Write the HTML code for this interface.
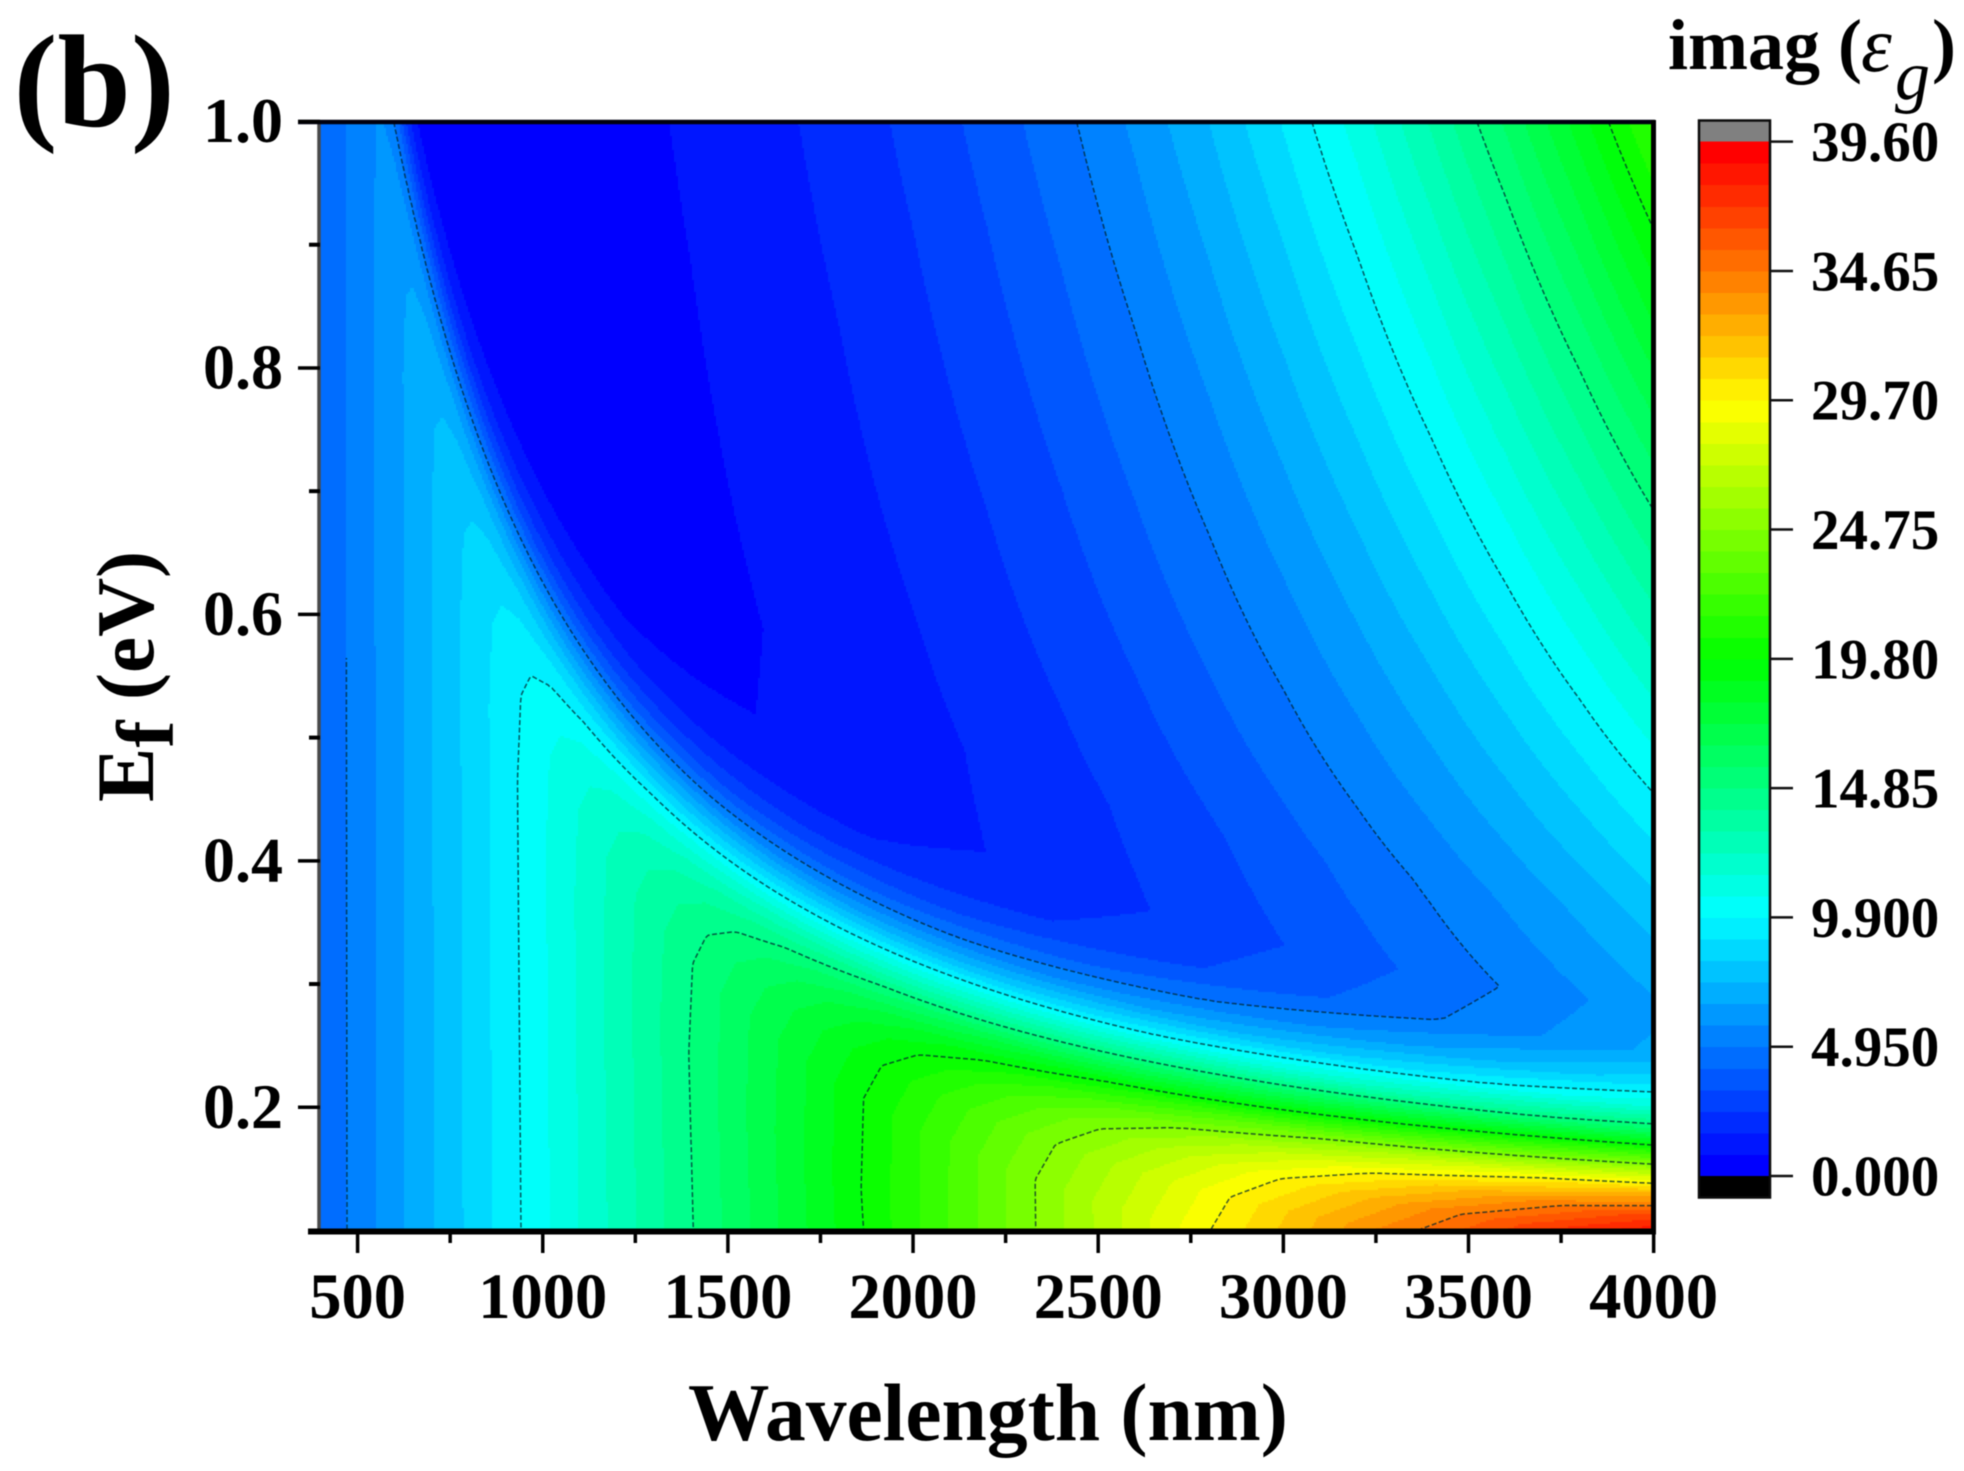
<!DOCTYPE html>
<html lang="en">
<head>
<meta charset="utf-8">
<title>imag(eps_g) contour map</title>
<style>
html,body{margin:0;padding:0;background:#fff;width:1964px;height:1471px;overflow:hidden}
#chart{display:block;filter:blur(0.6px)}
text{font-family:"Liberation Serif",serif;font-weight:bold;fill:#000}
</style>
</head>
<body>
<svg id="chart" xmlns="http://www.w3.org/2000/svg" width="1964" height="1471" viewBox="0 0 1964 1471">
  <defs>
    <clipPath id="first-line-clip"><path d="M380 0H1964V1471H0V658H380Z"/></clipPath>
  </defs>
  <rect x="0" y="0" width="1964" height="1471" fill="#fff"/>
  <g id="bands" shape-rendering="crispEdges"></g>
  <g id="contours" fill="none" stroke="#00262e" stroke-opacity="0.75" stroke-width="1.5" stroke-dasharray="5 2.5"></g>
  <g id="axes"></g>
  <g id="colorbar"></g>
  <text x="13.5" y="126" font-size="132">(b)</text>
  <text x="688" y="1440" font-size="81.5">Wavelength (nm)</text>
  <text transform="translate(153 802) rotate(-90)" font-size="81.5">E<tspan dy="20">f</tspan><tspan dy="-20" xml:space="preserve"> (eV)</tspan></text>
  <text y="69" font-size="72"><tspan x="1668">imag (</tspan><tspan x="1861" y="71" font-size="78" font-style="italic" font-weight="normal">ε</tspan><tspan x="1895" y="99" font-size="70" font-style="italic" font-weight="normal">g</tspan><tspan x="1932" y="69">)</tspan></text>
</svg>
<script>
// ---- data ----
// Columns: wavelength (nm). Rows: detuning 2*Ef - photon energy (eV), which keeps the sharp ridge axis-aligned.
const wavelengthColumns = [400,600,800,1000,1200,1400,1600,1800,2000,2200,2400,2600,2800,3000,3200,3400,3600,3800,4000];
const detuningRows = [-3,-0.4,-0.25,-0.18,-0.13,-0.09,-0.05,0,0.05,0.09,0.13,0.18,0.25,0.4,1,2];
const imagValues = [
[4.20,6.27,8.27,10.20,12.02,13.72,15.26,16.62,17.77,18.70,19.38,19.78,19.89,19.66,19.09,18.14,16.80,15.03,12.81],
[4.23,6.36,8.49,10.63,12.77,14.91,17.04,19.17,21.28,23.37,25.45,27.50,29.53,31.53,33.50,35.43,37.32,39.18,40.98],
[4.18,6.28,8.40,10.53,12.67,14.80,16.95,19.09,21.23,23.37,25.50,27.62,29.74,31.84,33.93,36.00,38.06,40.09,42.10],
[4.05,6.10,8.16,10.23,12.31,14.40,16.49,18.59,20.69,22.80,24.91,27.01,29.11,31.21,33.31,35.40,37.48,39.55,41.60],
[3.83,5.77,7.72,9.68,11.66,13.64,15.64,17.64,19.65,21.66,23.69,25.71,27.74,29.77,31.80,33.84,35.87,37.90,39.92],
[3.50,5.27,7.06,8.86,10.67,12.50,14.34,16.19,18.04,19.91,21.79,23.68,25.57,27.47,29.37,31.28,33.20,35.12,37.04],
[2.99,4.50,6.04,7.58,9.15,10.72,12.31,13.92,15.54,17.17,18.81,20.46,22.13,23.81,25.50,27.19,28.90,30.62,32.35],
[2.13,3.23,4.34,5.46,6.60,7.76,8.94,10.13,11.34,12.57,13.81,15.07,16.35,17.64,18.95,20.28,21.62,22.99,24.36],
[1.28,1.95,2.63,3.34,4.06,4.80,5.56,6.34,7.15,7.97,8.81,9.68,10.57,11.48,12.41,13.37,14.35,15.35,16.38],
[0.77,1.18,1.61,2.06,2.53,3.03,3.54,4.08,4.64,5.22,5.83,6.47,7.13,7.82,8.53,9.28,10.05,10.86,11.69],
[0.44,0.69,0.95,1.24,1.55,1.88,2.24,2.62,3.03,3.47,3.94,4.43,4.95,5.51,6.10,6.72,7.38,8.07,8.81],
[0.19,0.30,0.44,0.61,0.80,1.01,1.26,1.52,1.82,2.16,2.52,2.91,3.34,3.82,4.33,4.87,5.47,6.11,6.78],
[0.07,0.14,0.23,0.34,0.48,0.65,0.85,1.08,1.345,1.655,2.005,2.385,2.815,3.29,3.81,4.38,5.00,5.68,6.41],
[0.04,0.10,0.18,0.29,0.43,0.61,0.83,1.10,1.40,1.76,2.17,2.64,3.17,3.75,4.41,5.13,5.93,6.80,7.75],
[0.044,0.112,0.221,0.380,0.596,0.877,1.232,1.670,2.197,2.822,3.554,4.400,5.369,6.469,7.706,9.092,10.632,12.336,14.213],
[0.055,0.149,0.308,0.549,0.889,1.342,1.927,2.658,3.553,4.627,5.897,7.379,9.090,11.046,13.260,15.754,18.540,21.637,25.063]
];
const contourLevels = [4.95,9.9,14.85,19.8,24.75,29.7,34.65];
const colorLevelStep = 0.825;
const colorLevelCount = 48;
const xMajorTicks = [500,1000,1500,2000,2500,3000,3500,4000];
const xMinorTicks = [750,1250,1750,2250,2750,3250,3750];
const yMajorTicks = [0.2,0.4,0.6,0.8,1.0];
const yMinorTicks = [0.1,0.3,0.5,0.7,0.9];
const colorbarTicks = [0,4.95,9.9,14.85,19.8,24.75,29.7,34.65,39.6];
const colorbarTickLabels = ["0.000","4.950","9.900","14.85","19.80","24.75","29.70","34.65","39.60"];

// ---- axis functions ----
const xScale = w => 357.6 + (w - 500) * 0.3703;
const xInvert = x => 500 + (x - 357.6) / 0.3703;
const yScale = e => 121.5 + (1 - e) * 1232.2;
const yInvert = y => 1 - (y - 121.5) / 1232.2;
const cbScale = v => 1176 - v * 26.12;

const NS = 'http://www.w3.org/2000/svg';
function mk(tag, parent, attrs) {
  const el = document.createElementNS(NS, tag);
  for (const k in attrs) el.setAttribute(k, attrs[k]);
  parent.appendChild(el);
  return el;
}
function locate(arr, v) {
  let i = 0;
  while (i < arr.length - 2 && v > arr[i + 1]) i++;
  return i;
}
function fieldValue(w, e) {
  const s = 2 * e - 1240 / w;
  const c = locate(wavelengthColumns, w);
  const r = locate(detuningRows, s);
  const tc = Math.min(1, Math.max(0, (w - wavelengthColumns[c]) / (wavelengthColumns[c + 1] - wavelengthColumns[c])));
  const tr = Math.min(1, Math.max(0, (s - detuningRows[r]) / (detuningRows[r + 1] - detuningRows[r])));
  const a = imagValues[r][c], b = imagValues[r][c + 1], d = imagValues[r + 1][c], f = imagValues[r + 1][c + 1];
  return (a * (1 - tc) + b * tc) * (1 - tr) + (d * (1 - tc) + f * tc) * tr;
}
function levelColor(k) {
  const t = k / (colorLevelCount - 1) * 4;
  const seg = Math.min(3, Math.floor(t)), u = t - seg;
  let r, g, b;
  if (seg === 0) { r = 0; g = 255 * u; b = 255; }
  else if (seg === 1) { r = 0; g = 255; b = 255 * (1 - u); }
  else if (seg === 2) { r = 255 * u; g = 255; b = 0; }
  else { r = 255; g = 255 * (1 - u); b = 0; }
  return 'rgb(' + Math.round(r) + ',' + Math.round(g) + ',' + Math.round(b) + ')';
}

// ---- filled contour bands ----
const plotLeft = 320, plotRight = 1652, plotTop = 122, plotBottom = 1230, cell = 2;
const bandPaths = [];
for (let k = 0; k < colorLevelCount; k++) bandPaths.push([]);
for (let y = plotTop; y < plotBottom; y += cell) {
  const e = yInvert(y + cell / 2);
  let runStart = plotLeft, runBand = -1;
  for (let x = plotLeft; x <= plotRight; x += cell) {
    let band = -2;
    if (x < plotRight) {
      band = Math.floor(fieldValue(xInvert(x + cell / 2), e) / colorLevelStep);
      band = Math.max(0, Math.min(colorLevelCount - 1, band));
    }
    if (band !== runBand) {
      if (runBand >= 0) bandPaths[runBand].push('M' + runStart + ' ' + y + 'h' + (x - runStart) + 'v' + cell + 'h' + (runStart - x) + 'z');
      runStart = x;
      runBand = band;
    }
  }
}
const bandsGroup = document.getElementById('bands');
bandPaths.forEach((parts, k) => {
  if (!parts.length) return;
  const el = mk('path', bandsGroup, { d: parts.join(''), fill: levelColor(k) });
  
  
});

// ---- contour lines (marching squares, chained into polylines) ----
const gridStep = 4;
const gridCols = Math.floor((plotRight - plotLeft) / gridStep);
const gridRows = Math.floor((plotBottom - plotTop) / gridStep);
const gridValues = [];
for (let j = 0; j <= gridRows; j++) {
  const row = new Float64Array(gridCols + 1);
  const e = yInvert(plotTop + j * gridStep);
  for (let i = 0; i <= gridCols; i++) row[i] = fieldValue(xInvert(plotLeft + i * gridStep), e);
  gridValues.push(row);
}
const caseSegments = {1:[['L','B']],2:[['B','R']],3:[['L','R']],4:[['T','R']],5:[['L','T'],['B','R']],6:[['T','B']],7:[['L','T']],8:[['L','T']],9:[['T','B']],10:[['L','B'],['T','R']],11:[['T','R']],12:[['L','R']],13:[['B','R']],14:[['L','B']]};
function contourPath(level) {
  const pts = new Map(), adj = new Map();
  function edgePoint(side, i, j) {
    let key, a, b, x, y;
    if (side === 'T' || side === 'B') {
      const jj = side === 'T' ? j : j + 1;
      key = 'h' + i + ',' + jj;
      if (!pts.has(key)) {
        a = gridValues[jj][i]; b = gridValues[jj][i + 1];
        x = plotLeft + (i + (level - a) / (b - a)) * gridStep;
        y = plotTop + jj * gridStep;
        pts.set(key, [x, y]);
      }
    } else {
      const ii = side === 'L' ? i : i + 1;
      key = 'v' + ii + ',' + j;
      if (!pts.has(key)) {
        a = gridValues[j][ii]; b = gridValues[j + 1][ii];
        x = plotLeft + ii * gridStep;
        y = plotTop + (j + (level - a) / (b - a)) * gridStep;
        pts.set(key, [x, y]);
      }
    }
    return key;
  }
  function link(a, b) {
    if (!adj.has(a)) adj.set(a, []);
    if (!adj.has(b)) adj.set(b, []);
    adj.get(a).push(b);
    adj.get(b).push(a);
  }
  for (let j = 0; j < gridRows; j++) {
    for (let i = 0; i < gridCols; i++) {
      const idx = (gridValues[j][i] >= level ? 8 : 0) + (gridValues[j][i + 1] >= level ? 4 : 0) + (gridValues[j + 1][i + 1] >= level ? 2 : 0) + (gridValues[j + 1][i] >= level ? 1 : 0);
      const segs = caseSegments[idx];
      if (!segs) continue;
      segs.forEach(s => link(edgePoint(s[0], i, j), edgePoint(s[1], i, j)));
    }
  }
  const visited = new Set();
  let d = '';
  function walk(start) {
    let cur = start, chain = [];
    while (cur !== undefined && !visited.has(cur)) {
      visited.add(cur);
      chain.push(pts.get(cur));
      cur = adj.get(cur).find(n => !visited.has(n));
    }
    if (chain.length > 1) d += 'M' + chain.map(p => p[0].toFixed(1) + ' ' + p[1].toFixed(1)).join('L');
  }
  adj.forEach((n, key) => { if (n.length === 1 && !visited.has(key)) walk(key); });
  adj.forEach((n, key) => { if (!visited.has(key)) walk(key); });
  return d;
}
const contourGroup = document.getElementById('contours');
contourLevels.forEach((level, i) => {
  const el = mk('path', contourGroup, { d: contourPath(level) });
  if (i === 0) el.setAttribute('clip-path', 'url(#first-line-clip)');
  
  
});

// ---- axes ----
const axes = document.getElementById('axes');
const frameParts = [
  ['frame-left', 319, 121, 319, 1231, '#4a4a4a', 3.5],
  ['frame-top', 298, 122, 1655, 122, '#000010', 4.5],
  ['frame-right', 1653.5, 120, 1653.5, 1231, '#000', 5],
  ['frame-bottom', 308, 1231.5, 1656, 1231.5, '#000', 6]
];
frameParts.forEach(p => {
  const el = mk('line', axes, { x1: p[1], y1: p[2], x2: p[3], y2: p[4], stroke: p[5], 'stroke-width': p[6] });
  
  
});
xMajorTicks.forEach(v => {
  const x = xScale(v);
  const t = mk('line', axes, { x1: x, y1: 1231, x2: x, y2: 1253, stroke: '#000', 'stroke-width': 3.5 });
  
  
  const l = mk('text', axes, { x: x, y: 1318, 'font-size': 64.5, 'text-anchor': 'middle' });
  l.textContent = v;
  
  
});
xMinorTicks.forEach(v => {
  const x = xScale(v);
  const t = mk('line', axes, { x1: x, y1: 1231, x2: x, y2: 1243, stroke: '#000', 'stroke-width': 3.5 });
  
  
});
yMajorTicks.forEach(v => {
  const y = yScale(v);
  const t = mk('line', axes, { x1: 298, y1: y, x2: 320, y2: y, stroke: '#000', 'stroke-width': 3.5 });
  
  
  const l = mk('text', axes, { x: 283, y: y + 20.5, 'font-size': 64, 'text-anchor': 'end' });
  l.textContent = v.toFixed(1);
  
  
});
yMinorTicks.forEach(v => {
  const y = yScale(v);
  const t = mk('line', axes, { x1: 309, y1: y, x2: 320, y2: y, stroke: '#000', 'stroke-width': 4 });
  
  
});

// ---- colorbar ----
const cb = document.getElementById('colorbar');
const cbLeft = 1699, cbWidth = 71;
const cap = mk('rect', cb, { x: cbLeft, y: 121, width: cbWidth, height: cbScale(colorLevelCount * colorLevelStep) - 121, fill: '#808080' });


for (let k = 0; k < colorLevelCount; k++) {
  const top = cbScale((k + 1) * colorLevelStep), bottom = cbScale(k * colorLevelStep);
  const r = mk('rect', cb, { x: cbLeft, y: top, width: cbWidth, height: bottom - top + 0.5, fill: levelColor(k), 'shape-rendering': 'crispEdges' });
  
  
}
const under = mk('rect', cb, { x: cbLeft - 1, y: cbScale(0), width: cbWidth + 2, height: 22, fill: '#000' });


const cbFrame = mk('rect', cb, { x: cbLeft, y: 120.5, width: cbWidth, height: 1077, fill: 'none', stroke: '#0c0c0c', 'stroke-width': 2.5 });


colorbarTicks.forEach((v, i) => {
  const y = cbScale(v);
  const t = mk('line', cb, { x1: 1770, y1: y, x2: 1793, y2: y, stroke: '#111', 'stroke-width': 2.5 });
  
  
  const l = mk('text', cb, { x: 1811, y: y + 19.5, 'font-size': 57 });
  l.textContent = colorbarTickLabels[i];
  
  
});
</script>
</body>
</html>
